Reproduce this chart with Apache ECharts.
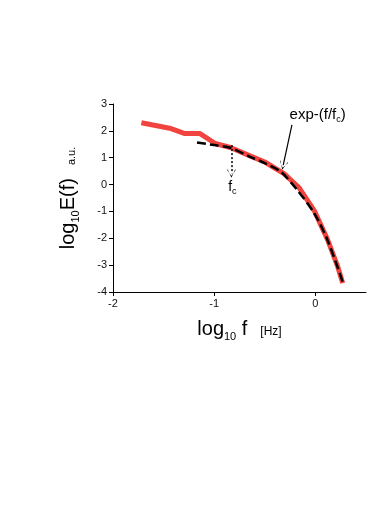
<!DOCTYPE html>
<html>
<head>
<meta charset="utf-8">
<script src="https://cdn.jsdelivr.net/npm/echarts@6/dist/echarts.min.js"></script>
<style>
  html, body { margin: 0; padding: 0; background: #fff; }
  #chart { width: 390px; height: 510px; }
</style>
</head>
<body>
<div id="chart"></div>
<script>
// log10 f, log10 E(f)
var measured = [
  [-1.72, 2.30], [-1.44, 2.10], [-1.29, 1.90], [-1.14, 1.90], [-0.99, 1.53],
  [-0.84, 1.38], [-0.64, 1.06], [-0.50, 0.84], [-0.31, 0.41], [-0.16, -0.12],
  [-0.01, -0.98], [0.12, -2.05], [0.22, -3.05], [0.27, -3.67]
];
var fitCurve = [
  [-1.17, 1.57], [-1.00, 1.47], [-0.84, 1.37], [-0.64, 1.02], [-0.50, 0.80],
  [-0.34, 0.47], [-0.18, -0.20], [-0.01, -1.08], [0.12, -2.07], [0.27, -3.63]
];
var xTicks = [-2, -1, 0];
var fcPos = -0.83;

var font = "'Liberation Sans', Arial, sans-serif";
var chevron = 'path://M0,10 L5,0 L10,10 L10,8.2 L5,2.2 L0,8.2 Z';

// big label + subscript styles
function nameRich(unitSize) {
  return {
    b: { fontSize: 20, lineHeight: 24, color: '#000', fontFamily: font },
    s: { fontSize: 11, verticalAlign: 'bottom', color: '#000', fontFamily: font, padding: [0, 0, -1, 0] },
    g: { width: 13 },
    u: { fontSize: unitSize, verticalAlign: 'bottom', color: '#000', fontFamily: font, padding: [0, 0, 3, 0] }
  };
}

var chart = echarts.init(document.getElementById('chart'));
chart.setOption({
  backgroundColor: '#fff',
  animation: false,
  textStyle: { fontFamily: font },
  grid: { left: 113, right: 24, top: 104, bottom: 218 },
  xAxis: {
    type: 'value', min: -2, max: 0.5, interval: 1,
    axisLine: { onZero: false, lineStyle: { color: '#000', width: 1 } },
    axisTick: { show: true, length: 4, customValues: xTicks, lineStyle: { color: '#000' } },
    axisLabel: { customValues: xTicks, color: '#111', fontSize: 11, margin: 6 },
    splitLine: { show: false },
    name: '{b|log}{s|10}{b| f}{g|}{u|[Hz]}',
    nameLocation: 'middle', nameGap: 25,
    nameTextStyle: { rich: nameRich(12) }
  },
  yAxis: {
    type: 'value', min: -4, max: 3, interval: 1,
    axisLine: { show: true, onZero: false, lineStyle: { color: '#000', width: 1 } },
    axisTick: { show: true, length: 4, lineStyle: { color: '#000' } },
    axisLabel: { color: '#111', fontSize: 11, margin: 6 },
    splitLine: { show: false },
    name: '{b|log}{s|10}{b|E(f)}{g|}{u|a.u.}',
    nameLocation: 'middle', nameGap: 33,
    nameTextStyle: { rich: nameRich(11) }
  },
  series: [
    {
      type: 'line',
      data: measured,
      symbol: 'none',
      lineStyle: { color: '#f2443f', width: 5 },
      z: 2
    },
    {
      type: 'line',
      data: fitCurve,
      symbol: 'none',
      smooth: 0.3,
      lineStyle: { color: '#000', width: 2.5, type: [9, 4] },
      z: 3,
      markLine: {
        silent: true,
        symbol: ['none', chevron],
        symbolSize: [8, 9],
        label: { show: false },
        animation: false,
        data: [
          [
            { coord: [-0.232, 2.22], lineStyle: { color: '#000', width: 1.2, type: 'solid' } },
            { coord: [-0.318, 0.72] }
          ],
          [
            { coord: [fcPos, 1.47], lineStyle: { color: '#000', width: 1.5, type: [2, 2] } },
            { coord: [fcPos, 0.42] }
          ]
        ]
      },
      markPoint: {
        silent: true,
        symbol: 'circle',
        symbolSize: 0,
        data: [
          {
            coord: [0.022, 2.61],
            label: {
              show: true, position: 'inside',
              formatter: '{m|exp-(f/f}{s|c}{m|)}',
              rich: {
                m: { fontSize: 15, lineHeight: 18, color: '#000', fontFamily: font },
                s: { fontSize: 9, verticalAlign: 'bottom', color: '#000', fontFamily: font, padding: [0, 0, -1, 0] }
              }
            }
          },
          {
            coord: [fcPos + 0.01, -0.1],
            label: {
              show: true, position: 'inside',
              formatter: '{m|f}{s|c}',
              rich: {
                m: { fontSize: 14, lineHeight: 18, color: '#000', fontFamily: font },
                s: { fontSize: 9, verticalAlign: 'bottom', color: '#000', fontFamily: font, padding: [0, 0, 0, 0] }
              }
            }
          }
        ]
      }
    }
  ]
});
</script>
</body>
</html>
